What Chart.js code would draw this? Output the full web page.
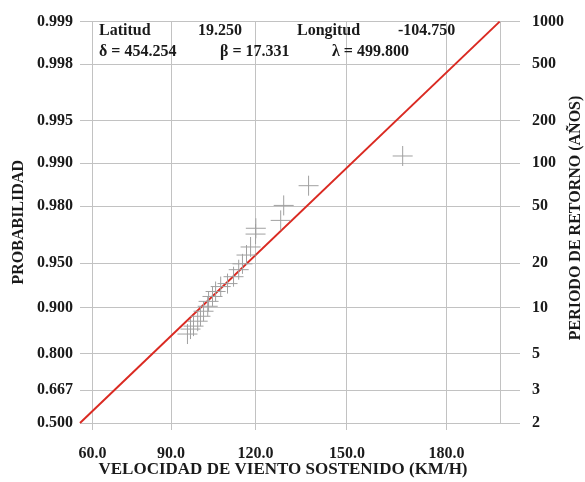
<!DOCTYPE html>
<html>
<head>
<meta charset="utf-8">
<script src="https://cdn.jsdelivr.net/npm/chart.js@4.4.1/dist/chart.umd.min.js"></script>
<style>
  html, body { margin: 0; padding: 0; background: #fff; }
  #wrap { width: 585px; height: 482px; }
</style>
</head>
<body>
<div id="wrap"><canvas id="probChart"></canvas></div>
<script>
// Ajuste de viento: escala de probabilidad (Gumbel) y eje x en -ln(lambda - v)
var LAMBDA = 499.8;
var xTicks = [60, 90, 120, 150, 180];
var probTicks = [0.500, 0.667, 0.800, 0.900, 0.950, 0.980, 0.990, 0.995, 0.998, 0.999];
var periodTicks = [2, 3, 5, 10, 20, 50, 100, 200, 500, 1000];

// observaciones (km/h, probabilidad)
var obsSpeed = [167.1, 137.7, 129.5, 128.5, 120.1, 120.0, 118.3, 116.9, 115.5, 114.2, 112.4, 110.3,
                107.9, 106.1, 105.0, 103.6, 103.3, 101.8, 100.7, 99.7, 98.2, 97.1, 96.0];
var obsProb = [0.9911, 0.9856, 0.9802, 0.9748, 0.9714, 0.9686, 0.9614, 0.9561, 0.9495, 0.9446, 0.9381, 0.9310,
               0.9277, 0.9219, 0.9156, 0.9089, 0.9017, 0.8939, 0.8854, 0.8764, 0.8668, 0.8607, 0.8499];

// recta ajustada
var fitSpeed = [55.0, 194.9];
var fitProb = [0.500, 0.999];

var infoRows = [
    [['Latitud', 99], ['19.250', 198], ['Longitud', 297], ['-104.750', 398]],
    [['\u03b4 = 454.254', 99], ['\u03b2 = 17.331', 220], ['\u03bb = 499.800', 332]]
];

function xu(v) { return -Math.log(LAMBDA - v); }
function yr(p) { return -Math.log(-Math.log(p)); }

var serif = 'Liberation Serif, "Times New Roman", serif';
var txt = '#1a1a1a';
var gridCol = '#c2c2c2';

var obsPts = obsSpeed.map(function (v, i) { return { x: xu(v), y: yr(obsProb[i]) }; });
var fitPts = fitSpeed.map(function (v, i) { return { x: xu(v), y: yr(fitProb[i]) }; });

// textos sueltos: cuadro de parametros y titulos de eje
var extraText = {
    id: 'extraText',
    afterDraw: function (chart) {
        var ctx = chart.ctx;
        ctx.save();
        ctx.fillStyle = txt;
        ctx.font = 'bold 16px ' + serif;
        ctx.textBaseline = 'middle';
        ctx.textAlign = 'left';
        infoRows.forEach(function (row, r) {
            row.forEach(function (it) { ctx.fillText(it[0], it[1], r === 0 ? 31 : 52); });
        });
        ctx.textAlign = 'center';
        ctx.font = 'bold 17px ' + serif;
        ctx.fillText('VELOCIDAD DE VIENTO SOSTENIDO (KM/H)', 283, 470);
        ctx.font = 'bold 16px ' + serif;
        ctx.translate(576, 218);
        ctx.rotate(-Math.PI / 2);
        ctx.fillText('PERIODO DE RETORNO (A\u00d1OS)', 0, 0);
        ctx.restore();
    }
};

var ctxProb = document.getElementById('probChart').getContext('2d');
var probChart = new Chart(ctxProb, {
    type: 'scatter',
    data: {
        datasets: [
            {
                label: 'Observado',
                data: obsPts,
                pointStyle: 'cross',
                pointRadius: 10,
                pointBorderWidth: 1,
                borderColor: '#a0a0a0',
                backgroundColor: '#a0a0a0',
                showLine: false
            },
            {
                label: 'Ajuste',
                data: fitPts,
                showLine: true,
                pointRadius: 0,
                borderColor: '#da2a22',
                borderWidth: 2,
                clip: false
            }
        ]
    },
    options: {
        responsive: true,
        maintainAspectRatio: false,
        animation: false,
        layout: { padding: { top: 17, left: 0, right: 0, bottom: 0 } },
        plugins: {
            legend: { display: false },
            tooltip: { enabled: false }
        },
        scales: {
            x: {
                type: 'linear',
                min: xu(55),
                max: xu(195),
                afterBuildTicks: function (s) { s.ticks = xTicks.map(function (v) { return { value: xu(v) }; }); },
                afterFit: function (s) { s.height = 59; },
                border: { display: false },
                grid: { color: gridCol, tickColor: gridCol, tickLength: 7 },
                ticks: {
                    autoSkip: false,
                    maxRotation: 0,
                    padding: 14,
                    color: txt,
                    font: { family: serif, size: 16, weight: 'bold' },
                    callback: function (v, i) { return xTicks[i].toFixed(1); }
                }
            },
            y: {
                type: 'linear',
                position: 'left',
                min: yr(0.5),
                max: yr(0.999),
                afterBuildTicks: function (s) { s.ticks = probTicks.map(function (p) { return { value: yr(p) }; }); },
                afterFit: function (s) { s.width = 80; },
                border: { display: false },
                grid: { color: gridCol, drawTicks: false },
                ticks: {
                    autoSkip: false,
                    padding: 7,
                    color: txt,
                    font: { family: serif, size: 16, weight: 'bold' },
                    callback: function (v, i) { return probTicks[i].toFixed(3); }
                },
                title: {
                    display: true,
                    text: 'PROBABILIDAD',
                    color: txt,
                    font: { family: serif, size: 16, weight: 'bold' },
                    padding: { top: 9, bottom: 0 }
                }
            },
            y2: {
                type: 'linear',
                position: 'right',
                min: yr(0.5),
                max: yr(0.999),
                afterBuildTicks: function (s) { s.ticks = probTicks.map(function (p) { return { value: yr(p) }; }); },
                afterFit: function (s) { s.width = 85; },
                border: { display: true, color: gridCol },
                grid: { drawOnChartArea: false, color: gridCol, tickColor: gridCol, tickLength: 20 },
                ticks: {
                    autoSkip: false,
                    padding: 12,
                    color: txt,
                    font: { family: serif, size: 16, weight: 'bold' },
                    callback: function (v, i) { return String(periodTicks[i]); }
                }
            }
        }
    },
    plugins: [extraText]
});
</script>
</body>
</html>
